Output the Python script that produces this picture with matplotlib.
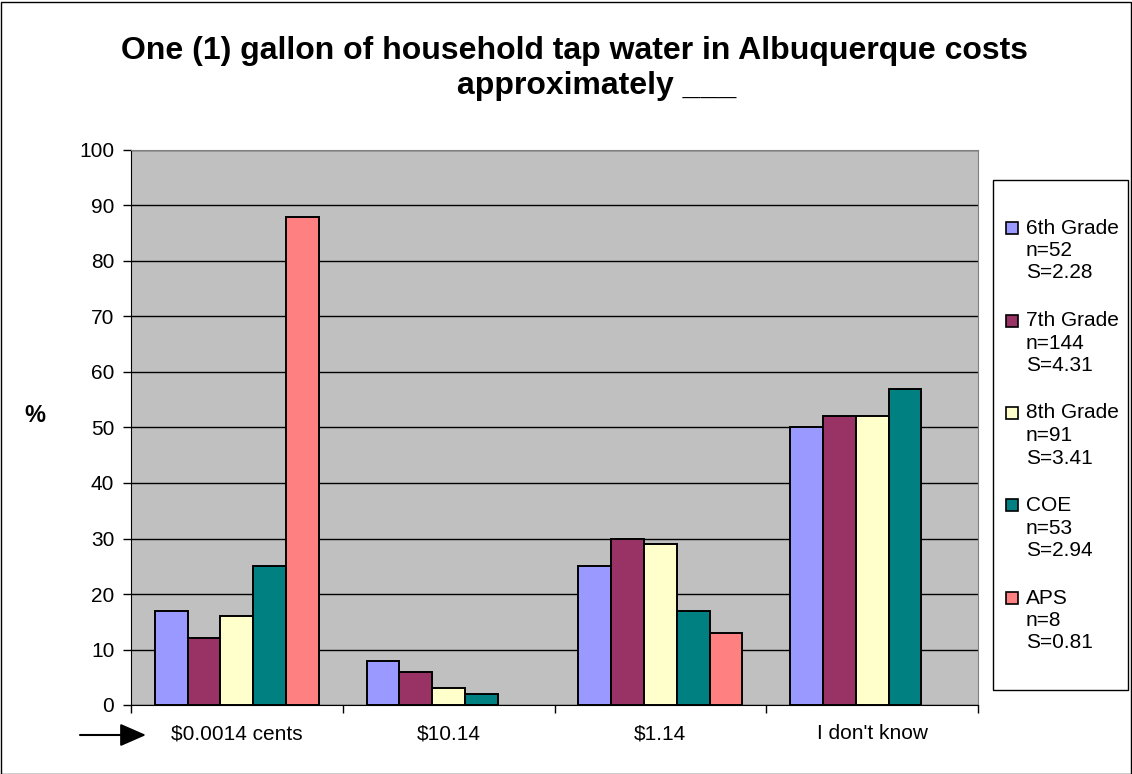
import numpy as np
import matplotlib
matplotlib.use("Agg")
import matplotlib.pyplot as plt
from matplotlib.patches import Rectangle

plt.rcParams["font.family"] = ["Liberation Sans", "DejaVu Sans"]

# ---- data ----
categories = ["$0.0014 cents", "$10.14", "$1.14", "I don't know"]
series = ["6th Grade", "7th Grade", "8th Grade", "COE", "APS"]
n_counts = [52, 144, 91, 53, 8]
s_scores = ["2.28", "4.31", "3.41", "2.94", "0.81"]
grade6 = [17, 8, 25, 50]
grade7 = [12, 6, 30, 52]
grade8 = [16, 3, 29, 52]
coe = [25, 2, 17, 57]
aps = [88, np.nan, 13, np.nan]   # no bar drawn for these
colors = ["#9999FF", "#993366", "#FFFFCC", "#008080", "#FF8080"]

values = [grade6, grade7, grade8, coe, aps]

W, H = 1132, 774
fig = plt.figure(figsize=(W / 100, H / 100), dpi=100)

# outer border
fig.patches.append(Rectangle((0.5 / W, 0.5 / H), 1 - 2 / W, 1 - 2 / H,
                             transform=fig.transFigure, fill=False,
                             edgecolor="black", linewidth=1))

ax = fig.add_axes([131 / W, 1 - 705 / H, (978 - 131) / W, (705 - 150) / H])
ax.set_facecolor("#C0C0C0")

x = np.arange(len(categories))
bw = 0.155
for i, (vals, c) in enumerate(zip(values, colors)):
    ax.bar(x + (i - 2) * bw, vals, width=bw, color=c, edgecolor="black",
           linewidth=1.4, zorder=3)

ax.set_xlim(-0.5, len(categories) - 0.5)
ax.set_ylim(0, 100)
ax.set_yticks(np.arange(0, 101, 10))
ax.yaxis.grid(True, color="black", linewidth=1, zorder=1)
ax.set_axisbelow(True)
ax.tick_params(axis="y", direction="out", length=6, width=1, labelsize=15,
               pad=6)

# x: ticks at category boundaries, labels at centers
ax.set_xticks(np.arange(-0.5, len(categories), 1.0))
ax.set_xticklabels([])
ax.set_xticks(x, minor=True)
ax.set_xticklabels(categories, minor=True, fontsize=15)
ax.tick_params(axis="x", which="major", direction="out", length=6, width=1)
ax.tick_params(axis="x", which="minor", length=0, pad=14)

for sp in ["top", "right"]:
    ax.spines[sp].set_color("#808080")
ax.spines["left"].set_color("black")
ax.spines["bottom"].set_color("black")

fig.text(575 / W, 1 - 51 / H, "One (1) gallon of household tap water in Albuquerque costs",
         ha="center", va="center", fontsize=23, fontweight="bold")
fig.text(597 / W, 1 - 86 / H, "approximately ___",
         ha="center", va="center", fontsize=23, fontweight="bold")
fig.text(35 / W, 1 - 415 / H, "%", ha="center", va="center", fontsize=17,
         fontweight="bold")

# arrow pointing at first category
ax.annotate("", xy=(146 / W, 1 - 735 / H), xytext=(80 / W, 1 - 735 / H),
            xycoords="figure fraction", textcoords="figure fraction",
            arrowprops=dict(arrowstyle="-|>,head_length=1.6,head_width=0.7",
                            color="black", lw=1.5, shrinkA=0, shrinkB=0))

# legend box
fig.patches.append(Rectangle((993 / W, 1 - 690 / H), (1128 - 993) / W, (690 - 180) / H,
                             transform=fig.transFigure, facecolor="white",
                             edgecolor="black", linewidth=1))
for i, name in enumerate(series):
    y0 = 228 + i * 92.5
    fig.patches.append(Rectangle((1006 / W, 1 - (y0 + 6) / H), 12 / W, 12 / H,
                                 transform=fig.transFigure, facecolor=colors[i],
                                 edgecolor="black", linewidth=1.2))
    lines = [name, f"n={n_counts[i]}", f"S={s_scores[i]}"]
    for j, t in enumerate(lines):
        fig.text(1026 / W, 1 - (y0 + j * 22.5) / H, t, ha="left", va="center",
                 fontsize=15)

fig.savefig("out.png", dpi=100)
